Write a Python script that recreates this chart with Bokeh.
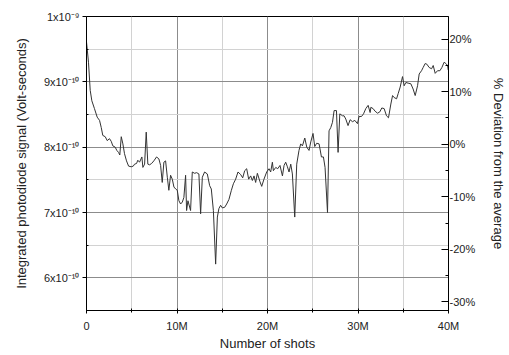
from bokeh.plotting import figure
from bokeh.models import Range1d, LinearAxis, FixedTicker, PrintfTickFormatter
from bokeh.embed import file_html
from bokeh.resources import INLINE

# Number of shots (millions)
shots_M = [0.00, 0.22, 0.41, 0.59, 0.88, 1.18, 1.44, 1.63, 1.80, 2.07, 2.29, 2.54, 2.73, 2.91, 3.17,
           3.35, 3.54, 3.68, 3.84, 4.02, 4.20, 4.42, 4.65, 4.94, 5.17, 5.31, 5.53, 5.67, 5.86, 6.12,
           6.23, 6.42, 6.60, 6.78, 6.97, 7.19, 7.44, 7.74, 8.00, 8.19, 8.37, 8.55, 8.74, 8.93, 9.10,
           9.29, 9.48, 9.66, 9.85, 10.03, 10.21, 10.40, 10.59, 10.76, 10.95, 11.06, 11.21, 11.50, 11.69, 11.95,
           12.17, 12.42, 12.61, 12.80, 13.05, 13.35, 13.61, 13.79, 14.02, 14.27, 14.46, 14.63, 14.82, 15.01, 15.27,
           15.49, 15.74, 16.01, 16.23, 16.48, 16.74, 17.04, 17.26, 17.48, 17.70, 17.92, 18.14, 18.33, 18.51, 18.69,
           18.88, 19.17, 19.36, 19.61, 19.91, 20.17, 20.35, 20.54, 20.65, 20.91, 21.13, 21.38, 21.65, 21.83, 22.01,
           22.20, 22.38, 22.57, 22.75, 23.01, 23.23, 23.48, 23.67, 23.86, 24.12, 24.34, 24.59, 24.78, 25.03, 25.22,
           25.44, 25.70, 25.96, 26.18, 26.36, 26.63, 26.80, 26.99, 27.18, 27.36, 27.62, 27.80, 27.99, 28.29, 28.46,
           28.65, 28.90, 29.13, 29.39, 29.65, 29.94, 30.12, 30.39, 30.61, 30.86, 31.12, 31.34, 31.42, 31.67, 31.89,
           32.16, 32.41, 32.63, 32.89, 33.15, 33.37, 33.63, 33.82, 33.99, 34.26, 34.44, 34.66, 34.92, 35.10, 35.29,
           35.54, 35.84, 36.09, 36.32, 36.58, 36.76, 37.02, 37.20, 37.42, 37.61, 37.86, 38.13, 38.31, 38.53, 38.79,
           39.05, 39.27, 39.52, 39.71, 39.90, 39.97]

# Integrated photodiode signal (units of 1e-10 Volt-seconds)
signal_e10 = [9.61, 9.30, 8.87, 8.71, 8.59, 8.46, 8.41, 8.30, 8.18, 8.16, 8.10, 8.13, 8.09, 8.02, 8.00,
              7.95, 7.92, 7.88, 8.16, 8.05, 7.90, 7.79, 7.71, 7.70, 7.71, 7.74, 7.75, 7.80, 7.77, 7.85,
              7.69, 7.74, 8.23, 7.74, 7.73, 7.75, 7.79, 7.85, 7.82, 7.72, 7.46, 7.77, 7.79, 7.54, 7.34,
              7.57, 7.51, 7.39, 7.36, 7.34, 7.18, 7.13, 7.16, 7.23, 7.57, 7.03, 7.18, 7.03, 7.62, 7.60,
              7.61, 7.59, 6.98, 7.54, 7.62, 7.59, 7.41, 7.36, 7.03, 6.21, 6.93, 7.06, 7.11, 7.07, 7.08,
              7.13, 7.20, 7.34, 7.44, 7.51, 7.62, 7.58, 7.53, 7.64, 7.67, 7.51, 7.56, 7.49, 7.56, 7.46,
              7.60, 7.47, 7.40, 7.51, 7.62, 7.67, 7.62, 7.77, 7.64, 7.69, 7.67, 7.72, 7.56, 7.72, 7.77,
              7.70, 7.62, 7.74, 7.59, 6.93, 7.74, 7.95, 8.05, 8.02, 8.14, 8.00, 7.95, 8.08, 8.21, 8.01,
              8.06, 8.05, 7.85, 7.85, 7.69, 7.00, 8.25, 8.30, 8.38, 8.56, 8.56, 7.92, 8.51, 8.48, 8.48,
              8.43, 8.33, 8.42, 8.39, 8.41, 8.36, 8.47, 8.47, 8.51, 8.59, 8.64, 8.53, 8.61, 8.59, 8.55,
              8.52, 8.54, 8.60, 8.59, 8.48, 8.45, 8.66, 8.79, 8.76, 8.74, 8.82, 8.92, 9.08, 8.94, 8.99,
              8.98, 8.97, 8.89, 8.79, 8.94, 9.12, 9.17, 9.22, 9.28, 9.27, 9.22, 9.20, 9.25, 9.13, 9.17,
              9.17, 9.22, 9.30, 9.28, 9.25, 9.18]

x_ticks = [0, 10, 20, 30, 40]
x_minor = [5, 15, 25, 35]
x_tick_labels = ["0", "10M", "20M", "30M", "40M"]
y_ticks = [6, 7, 8, 9, 10]
y_minor = [5.5, 6.5, 7.5, 8.5, 9.5]
y_tick_labels = ["6x10\u207b\u00b9\u2070", "7x10\u207b\u00b9\u2070", "8x10\u207b\u00b9\u2070",
                 "9x10\u207b\u00b9\u2070", "1x10\u207b\u2079"]
pct_ticks = [-30, -20, -10, 0, 10, 20]
pct_minor = [-25, -15, -5, 5, 15]
average_e10 = 8.045
y_lo, y_hi = 5.5, 10.0

FONT = "Liberation Sans"
TXT = "#222222"

p = figure(width=509, height=355, output_backend="svg", toolbar_location=None,
           x_range=Range1d(0, 40), y_range=Range1d(y_lo, y_hi),
           min_border_left=86, min_border_right=61, min_border_top=16, min_border_bottom=45)
p.outline_line_color = "black"
p.background_fill_color = "white"
p.border_fill_color = "white"

p.extra_y_ranges = {"pct": Range1d((y_lo / average_e10 - 1) * 100, (y_hi / average_e10 - 1) * 100)}

# grids
for g in (p.xgrid, p.ygrid):
    g.grid_line_color = "#8c8c8c"
    g.grid_line_width = 1
    g.minor_grid_line_color = "#d2d2d2"

p.line(shots_M, signal_e10, line_color="#333333", line_width=1)

def style(ax, size="11px"):
    ax.axis_line_color = "black"
    ax.major_tick_line_color = "black"
    ax.minor_tick_line_color = "black"
    ax.major_label_text_font = FONT
    ax.major_label_text_font_size = size
    ax.major_label_text_color = TXT
    ax.axis_label_text_font = FONT
    ax.axis_label_text_font_size = "13px"
    ax.axis_label_text_font_style = "normal"
    ax.axis_label_text_color = TXT

xa = p.xaxis[0]
xa.ticker = FixedTicker(ticks=x_ticks, minor_ticks=x_minor)
xa.major_label_overrides = dict(zip(x_ticks, x_tick_labels))
xa.axis_label = "Number of shots"
style(xa)
xa.major_tick_out = 3
xa.major_tick_in = 2
xa.minor_tick_out = 2
xa.minor_tick_in = 2
xa.major_label_standoff = 6
xa.axis_label_standoff = 1

ya = p.yaxis[0]
ya.ticker = FixedTicker(ticks=y_ticks, minor_ticks=y_minor)
ya.major_label_overrides = dict(zip(y_ticks, y_tick_labels))
ya.axis_label = "Integrated photodiode signal (Volt-seconds)"
style(ya)
ya.major_tick_out = 4
ya.major_tick_in = 0
ya.minor_tick_out = 0
ya.minor_tick_in = 2
ya.major_label_standoff = 3
ya.axis_label_standoff = 12

ra = LinearAxis(y_range_name="pct", ticker=FixedTicker(ticks=pct_ticks, minor_ticks=pct_minor),
                formatter=PrintfTickFormatter(format="%d%%"),
                axis_label="% Deviation from the average")
style(ra)
ra.major_tick_out = 0
ra.major_tick_in = 7
ra.minor_tick_out = 0
ra.minor_tick_in = 3
ra.major_label_standoff = 1
ra.axis_label_standoff = 13
p.add_layout(ra, "right")

open("out.html", "w").write(file_html(p, INLINE))
